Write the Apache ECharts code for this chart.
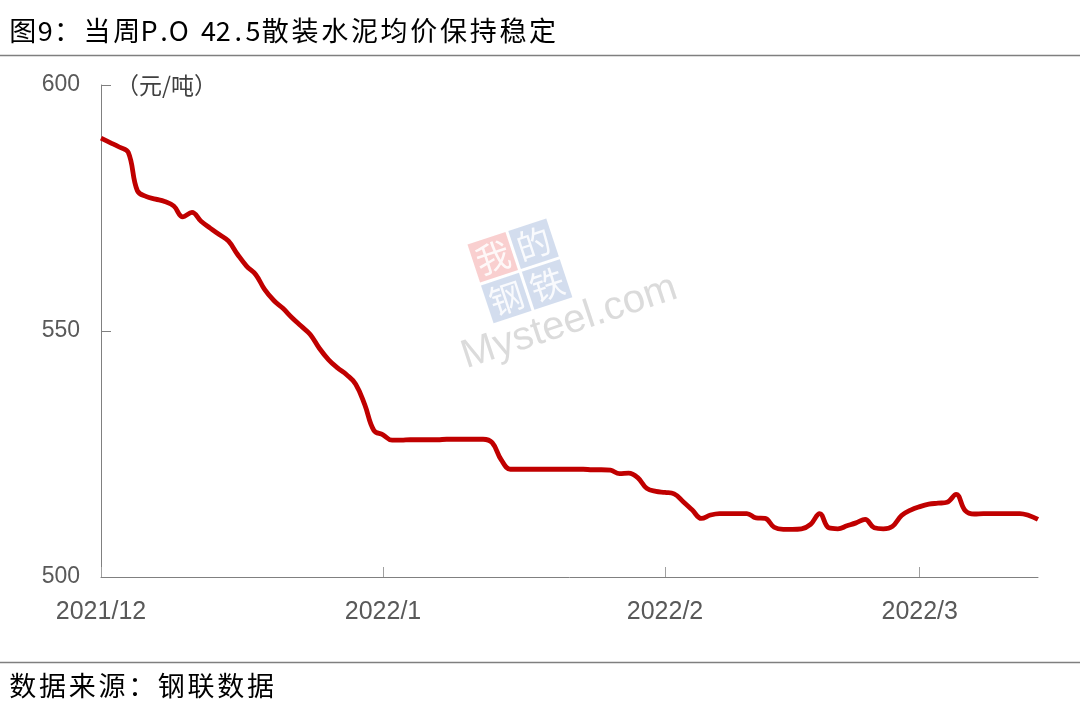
<!DOCTYPE html>
<html>
<head>
<meta charset="utf-8">
<script src="https://cdn.jsdelivr.net/npm/echarts@6/dist/echarts.min.js"></script>
<style>
html,body{margin:0;padding:0;background:#fff;}
#main{width:1080px;height:718px;}
</style>
</head>
<body>
<div id="main"></div>
<script>
// Daily dates from 2021-12-01 to 2022-03-14
var startDate = '2021-12-01';
var dayCount = 104;
var dates = [];
(function(){
  var d = new Date(startDate + 'T00:00:00Z');
  for (var i = 0; i < dayCount; i++) {
    var t = new Date(d.getTime() + i * 86400000);
    var m = t.getUTCMonth() + 1, dd = t.getUTCDate();
    dates.push(t.getUTCFullYear() + '-' + (m < 10 ? '0' + m : m) + '-' + (dd < 10 ? '0' + dd : dd));
  }
})();

// P.O 42.5 bulk cement average price (yuan/ton)
var priceDec = [589.2, 588.3, 587.4, 586.3, 578.5, 577.3, 576.8, 576.3, 575.4, 573.2,
  574.1, 572.3, 570.9, 569.6, 568.3, 565.6, 563.2, 561.5, 558.4, 556.2,
  554.6, 552.7, 551.0, 549.3, 546.5, 544.2, 542.5, 541.1, 539.2, 535.0, 529.8];
var priceJan = [528.9, 527.8, 527.8, 527.9, 527.9, 527.9, 527.9, 528.0, 528.0, 528.0,
  528.0, 528.0, 527.3, 523.8, 521.9, 521.9, 521.9, 521.9, 521.9, 521.9,
  521.9, 521.9, 521.9, 521.8, 521.8, 521.7, 521.0, 521.1, 520.2, 518.0, 517.4];
var priceFeb = [517.2, 516.9, 515.3, 513.6, 511.9, 512.6, 512.9, 512.9, 512.9, 512.9,
  512.0, 511.9, 510.1, 509.7, 509.7, 509.8, 510.7, 512.9, 510.0, 509.8,
  510.4, 511.0, 511.7, 510.0, 509.8, 510.3, 512.5, 513.6];
var priceMar = [514.3, 514.8, 515.0, 515.2, 516.8, 513.5, 512.8, 512.9, 512.9, 512.9,
  512.9, 512.9, 512.5, 511.7];
var prices = priceDec.concat(priceJan, priceFeb, priceMar);

var yTicks = [500, 550, 600];
var unitLabel = '（元/吨）';
var titleText = '图9：当周P.O 42.5散装水泥均价保持稳定';
var sourceText = '数据来源：钢联数据';

var chart = echarts.init(document.getElementById('main'));
var cjk = '"Noto Sans CJK SC", "Noto Sans", sans-serif';
var num = '"Liberation Sans", Arial, sans-serif';

function isMonthStart(v){ return v.slice(8) === '01'; }

// lay out a string on a fixed pitch (full-width / half-width cells)
function gridText(str, x0, yMid, fontSize, pitch, color) {
  var out = [], x = x0;
  for (var i = 0; i < str.length; i++) {
    var ch = str[i];
    var w = ch.charCodeAt(0) < 128 ? pitch / 2 : pitch;
    if (ch !== ' ') {
      out.push({ type: 'text', x: x + w / 2, y: yMid,
        style: { text: ch, fontSize: fontSize, fontFamily: cjk, fill: color, align: 'center', verticalAlign: 'middle' } });
    }
    x += w;
  }
  return out;
}

var graphics = [].concat(
  gridText(titleText, 8, 31, 27, 29.7, '#000'),
  gridText(sourceText, 8, 686, 27, 29.7, '#000'),
  [
    { type: 'line', shape: { x1: 0, y1: 55.5, x2: 1080, y2: 55.5 }, style: { stroke: '#7f7f7f', lineWidth: 1.5 } },
    { type: 'line', shape: { x1: 0, y1: 662.5, x2: 1080, y2: 662.5 }, style: { stroke: '#7f7f7f', lineWidth: 1.5 } },
    { type: 'text', x: 116, y: 85, style: { text: unitLabel, fontSize: 23, fontFamily: cjk, fill: '#404040', verticalAlign: 'middle' } },
    {
      type: 'group', x: 537, y: 270, rotation: 0.32, z: 1, silent: true,
      children: [
        { type: 'rect', shape: { x: -58, y: -46, width: 40, height: 40 }, style: { fill: 'rgba(240,140,140,0.42)' } },
        { type: 'rect', shape: { x: -15, y: -46, width: 40, height: 40 }, style: { fill: 'rgba(140,165,210,0.38)' } },
        { type: 'rect', shape: { x: -58, y: -3, width: 40, height: 40 }, style: { fill: 'rgba(140,165,210,0.38)' } },
        { type: 'rect', shape: { x: -15, y: -3, width: 40, height: 40 }, style: { fill: 'rgba(140,165,210,0.38)' } },
        { type: 'text', x: -38, y: -26, style: { text: '我', fontSize: 34, fontFamily: cjk, fill: 'rgba(255,255,255,0.85)', align: 'center', verticalAlign: 'middle' } },
        { type: 'text', x: 5, y: -26, style: { text: '的', fontSize: 34, fontFamily: cjk, fill: 'rgba(255,255,255,0.85)', align: 'center', verticalAlign: 'middle' } },
        { type: 'text', x: -38, y: 17, style: { text: '钢', fontSize: 34, fontFamily: cjk, fill: 'rgba(255,255,255,0.85)', align: 'center', verticalAlign: 'middle' } },
        { type: 'text', x: 5, y: 17, style: { text: '铁', fontSize: 34, fontFamily: cjk, fill: 'rgba(255,255,255,0.85)', align: 'center', verticalAlign: 'middle' } },
        { type: 'text', x: -98, y: 40, style: { text: 'Mysteel.com', fontSize: 40, fontFamily: num, fill: 'rgba(175,175,175,0.45)' } }
      ]
    }
  ]
);

chart.setOption({
  backgroundColor: '#fff',
  animation: false,
  grid: { left: 101, right: 42, top: 85, bottom: 141, containLabel: false },
  xAxis: {
    type: 'category',
    data: dates,
    boundaryGap: false,
    axisLine: { lineStyle: { color: '#808080', width: 1 } },
    axisTick: {
      inside: true, length: 10,
      lineStyle: { color: '#a0a0a0' },
      interval: function(i, v){ return isMonthStart(v); }
    },
    axisLabel: {
      interval: function(i, v){ return isMonthStart(v); },
      formatter: function(v){ return v.slice(0,4) + '/' + parseInt(v.slice(5,7), 10); },
      color: '#595959', fontSize: 25, fontFamily: num, margin: 23
    },
    splitLine: { show: false }
  },
  yAxis: {
    type: 'value',
    min: yTicks[0], max: yTicks[yTicks.length - 1], interval: 50,
    axisLine: { show: true, lineStyle: { color: '#808080', width: 1 } },
    axisTick: { show: true, inside: true, length: 10, lineStyle: { color: '#808080' } },
    axisLabel: { color: '#595959', fontSize: 23, fontFamily: num, margin: 21 },
    splitLine: { show: false }
  },
  series: [{
    type: 'line',
    data: prices,
    smooth: 0.4,
    showSymbol: false,
    symbol: 'none',
    lineStyle: { color: '#C00000', width: 4.8 },
    z: 5
  }],
  graphic: graphics
});
</script>
</body>
</html>
